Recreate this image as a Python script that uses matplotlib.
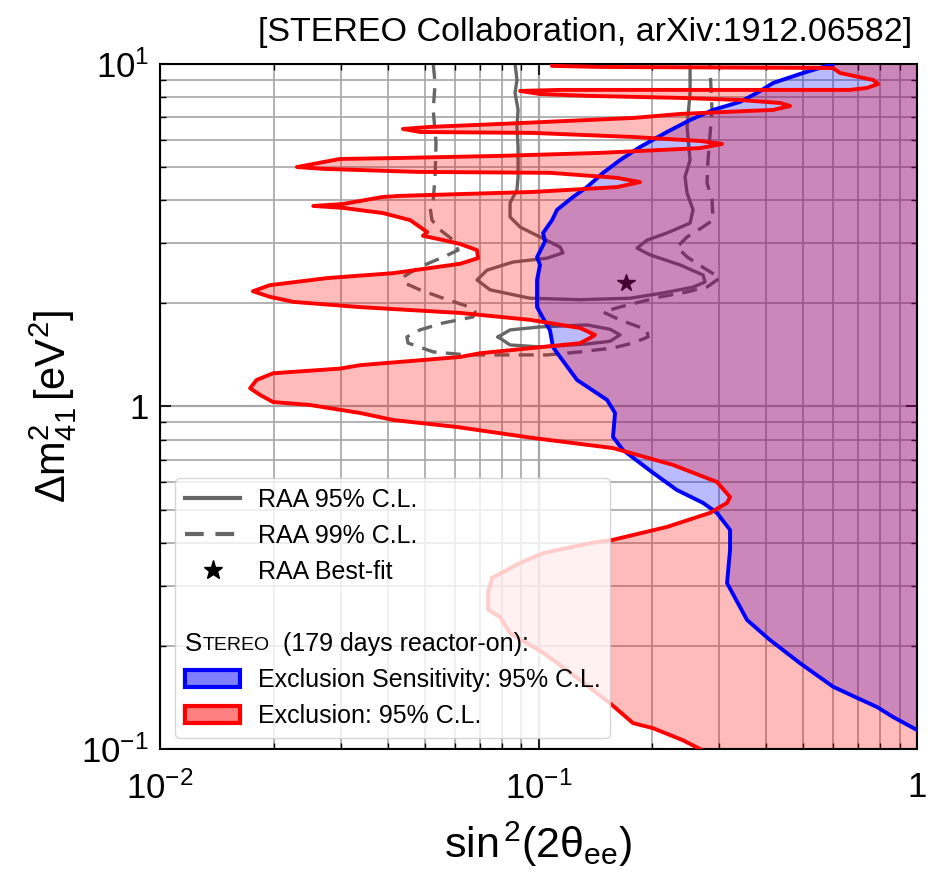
'''
STEREO exclusion contours vs. the RAA allowed region
'''

import numpy as np
import matplotlib
matplotlib.use('Agg')
import matplotlib.pyplot as plt
from matplotlib.lines import Line2D
from matplotlib.patches import Patch
from matplotlib.transforms import IdentityTransform

plt.rcParams['font.family'] = ['Liberation Sans', 'DejaVu Sans']
plt.rcParams['mathtext.fontset'] = 'custom'
plt.rcParams['mathtext.rm'] = 'Liberation Sans'
plt.rcParams['mathtext.it'] = 'Liberation Sans:italic'
plt.rcParams['mathtext.bf'] = 'Liberation Sans:bold'

XLIM = (1e-2, 1.0)
YLIM = (1e-1, 10.0)

# STEREO exclusion 95% C.L. (excluded to the right of the contour)
red_x = [0.1086, 0.1086, 0.1454, 0.600, 0.626, 0.765, 0.789, 0.738, 0.665, 0.267,
         0.114, 0.0894, 0.1009, 0.1343, 0.2365, 0.3407, 0.4346, 0.4619, 0.4166, 0.3556,
         0.2365, 0.1777, 0.0791, 0.0517, 0.04385, 0.0486, 0.0967, 0.1777, 0.2671, 0.3053,
         0.2671, 0.1454, 0.0791, 0.0431, 0.0299, 0.0270, 0.0230, 0.0270, 0.0478, 0.1072,
         0.1612, 0.1854, 0.1612, 0.0967, 0.0431, 0.0388, 0.0304, 0.0254, 0.0304, 0.0388,
         0.0458, 0.0508, 0.0495, 0.0560, 0.0621, 0.0688, 0.0692, 0.0621, 0.0413, 0.0276,
         0.0195, 0.0176, 0.0195, 0.0225, 0.0338, 0.0621, 0.0950, 0.1287, 0.1410, 0.1368,
         0.1287, 0.0700, 0.0621, 0.0338, 0.0299, 0.0199, 0.0180, 0.0173, 0.0184, 0.0199,
         0.0249, 0.0338, 0.0413, 0.0609, 0.0967, 0.1573, 0.2267, 0.2961, 0.3206, 0.3148,
         0.2838, 0.2185, 0.1573, 0.1368, 0.1028, 0.0894, 0.0754, 0.0736, 0.0736, 0.0791,
         0.0841, 0.1028, 0.1189, 0.1545, 0.1777, 0.2007, 0.2409, 0.2671]
red_y = [10.0, 9.87, 9.80, 9.73, 9.41, 8.98, 8.74, 8.51, 8.40, 8.40,
         8.40, 8.34, 8.17, 8.07, 7.96, 7.85, 7.69, 7.54, 7.34, 7.29,
         7.145, 6.955, 6.68, 6.55, 6.46, 6.33, 6.29, 6.12, 5.96, 5.84,
         5.68, 5.50, 5.39, 5.315, 5.28, 5.17, 5.00, 4.94, 4.84, 4.81,
         4.65, 4.52, 4.37, 4.23, 4.12, 4.09, 3.90, 3.85, 3.80, 3.67,
         3.50, 3.23, 3.15, 3.06, 2.98, 2.86, 2.71, 2.61, 2.45, 2.37,
         2.26, 2.17, 2.09, 2.02, 1.95, 1.875, 1.79, 1.695, 1.618, 1.585,
         1.53, 1.43, 1.395, 1.32, 1.29, 1.25, 1.195, 1.13, 1.08, 1.03,
         1.01, 0.957, 0.913, 0.871, 0.809, 0.756, 0.675, 0.602, 0.544, 0.523,
         0.489, 0.445, 0.408, 0.399, 0.373, 0.349, 0.316, 0.287, 0.255, 0.243,
         0.218, 0.191, 0.170, 0.136, 0.119, 0.115, 0.106, 0.100]

# STEREO exclusion sensitivity 95% C.L.
blue_x = [0.600, 0.5646, 0.4998, 0.4166, 0.3778, 0.3407, 0.3072, 0.2891, 0.2514, 0.2185,
          0.1854, 0.1642, 0.1481, 0.1343, 0.1234, 0.1119, 0.1086, 0.1028, 0.1040, 0.0991,
          0.1009, 0.0991, 0.0991, 0.1028, 0.1072, 0.1092, 0.1140, 0.1264, 0.1517, 0.1593,
          0.1573, 0.1672, 0.2007, 0.2322, 0.2720, 0.2961, 0.3206, 0.3206, 0.3148, 0.3556,
          0.4090, 0.4908, 0.600, 0.6943, 0.7839, 0.8641, 1.0]
blue_y = [10.0, 9.80, 9.41, 8.80, 8.23, 7.75, 7.49, 7.34, 6.86, 6.33,
          5.72, 5.24, 4.81, 4.37, 4.09, 3.75, 3.50, 3.21, 3.03, 2.73,
          2.59, 2.34, 1.95, 1.81, 1.67, 1.49, 1.395, 1.195, 1.045, 0.957,
          0.815, 0.746, 0.640, 0.570, 0.523, 0.489, 0.436, 0.381, 0.305, 0.238,
          0.208, 0.178, 0.152, 0.141, 0.1326, 0.124, 0.1136]

# RAA allowed regions
raa95_x = [0.0867, 0.0877, 0.0867, 0.0883, 0.0877, 0.0883, 0.0883, 0.0883, 0.0877, 0.0841,
           0.0841, 0.0894, 0.1009, 0.1140, 0.1161, 0.1053, 0.0856, 0.0731, 0.0688, 0.0745,
           0.0950, 0.1287, 0.1745, 0.2133, 0.2560, 0.2754, 0.2720, 0.2365, 0.1971, 0.1821,
           0.1935, 0.2185, 0.2514, 0.2560, 0.2468, 0.2438, 0.2514, 0.2468, 0.2514, 0.2514]
raa95_y = [10.0, 8.98, 8.23, 7.34, 6.55, 5.72, 5.24, 4.68, 4.29, 3.93,
           3.575, 3.34, 3.125, 2.92, 2.81, 2.71, 2.64, 2.50, 2.34, 2.19,
           2.07, 2.05, 2.07, 2.145, 2.23, 2.31, 2.42, 2.59, 2.77, 2.90,
           3.06, 3.21, 3.43, 3.75, 4.20, 4.68, 5.24, 6.55, 8.23, 10.0]

raa95_island_x = [0.0782, 0.0841, 0.1009, 0.1343, 0.1545, 0.1642, 0.1545, 0.1343, 0.1009,
                  0.0841, 0.0782]
raa95_island_y = [1.596, 1.673, 1.707, 1.730, 1.68, 1.618, 1.55, 1.522, 1.492, 1.512, 1.596]

raa99_x = [0.0527, 0.0533, 0.0527, 0.0536, 0.0533, 0.0527, 0.0517, 0.0523, 0.0549, 0.0595,
           0.0613, 0.0560, 0.0486, 0.0439, 0.0444, 0.0486, 0.0560, 0.0659, 0.0680, 0.0671,
           0.0560, 0.0486, 0.0449, 0.0452, 0.0527, 0.0648, 0.0877, 0.1053, 0.1287, 0.1573,
           0.1777, 0.1947, 0.1935, 0.1642, 0.1481, 0.1642, 0.2094, 0.2468, 0.2787, 0.3016,
           0.2787, 0.2468, 0.2322, 0.2468, 0.2720, 0.2891, 0.2873, 0.2787, 0.2804, 0.2873,
           0.2838, 0.2838]
raa99_y = [10.0, 8.80, 7.34, 5.88, 4.68, 4.01, 3.82, 3.50, 3.28, 3.06,
           2.86, 2.73, 2.555, 2.39, 2.29, 2.19, 2.07, 1.95, 1.887, 1.825,
           1.753, 1.673, 1.596, 1.532, 1.443, 1.414, 1.414, 1.414, 1.443, 1.482,
           1.532, 1.596, 1.673, 1.789, 1.887, 1.952, 2.088, 2.16, 2.233, 2.373,
           2.504, 2.733, 2.92, 3.125, 3.343, 3.504, 4.008, 4.493, 5.244, 7.339,
           9.80, 10.0]

bestfit_x = [0.1703]
bestfit_y = [2.294]

RAA_COLOR = '0.4'
DASH = (0, (4.5, 2.8))


def draw_header(fig, leg, row_text):
    # "STEREO" in small caps, placed where the legend handles start
    r = fig.canvas.get_renderer()
    frame = leg.get_frame().get_window_extent(r)
    bb = row_text.get_window_extent(r)
    y = 0.5 * (bb.y0 + bb.y1)
    x = frame.x0 + 10
    kw = dict(transform=IdentityTransform(), va='center', ha='left', zorder=10)
    t = fig.text(x, y, 'S', fontsize=18.5, **kw)
    x = t.get_window_extent(r).x1
    t = fig.text(x, y - 1.5, 'TEREO', fontsize=14, **kw)
    x = t.get_window_extent(r).x1
    fig.text(x, y, '  (179 days reactor-on):', fontsize=18, **kw)


def create_plot():
    fig = plt.figure(figsize=(9.33, 8.76), dpi=100)
    ax = fig.add_axes([0.1715, 0.145, 0.8114, 0.782])
    ax.set_xscale('log')
    ax.set_yscale('log')
    ax.set_xlim(*XLIM)
    ax.set_ylim(*YLIM)

    ax.set_axisbelow(True)
    ax.grid(True, which='major', color='#a6a6a6', lw=1.6)
    ax.grid(True, which='minor', color='#a6a6a6', lw=1.2)

    # RAA contours sit under the exclusion fills
    ax.plot(raa95_x, raa95_y, color=RAA_COLOR, lw=2.4, zorder=1)
    ax.plot(raa95_island_x, raa95_island_y, color=RAA_COLOR, lw=2.4, zorder=1)
    ax.plot(raa99_x, raa99_y, color=RAA_COLOR, lw=2.4, ls=DASH, zorder=1)
    ax.plot(bestfit_x, bestfit_y, ls='none', marker='*', ms=13, color='k', zorder=1.5)

    ax.fill(np.r_[blue_x, XLIM[1]], np.r_[blue_y, YLIM[1]],
            color='blue', alpha=0.27, lw=0, zorder=2)
    ax.fill(np.r_[red_x, XLIM[1], XLIM[1]], np.r_[red_y, YLIM[0], YLIM[1]],
            color='red', alpha=0.27, lw=0, zorder=2.1)
    ax.plot(blue_x, blue_y, color='blue', lw=2.8, zorder=3)
    ax.plot(red_x, red_y, color='red', lw=2.8, zorder=3.1)

    ax.set_xticks([0.01, 0.1, 1], labels=[r'$10^{-2}$', r'$10^{-1}$', '1'])
    ax.set_yticks([0.1, 1, 10], labels=[r'$10^{-1}$', '1', r'$10^{1}$'])
    ax.xaxis.set_minor_formatter(plt.NullFormatter())
    ax.yaxis.set_minor_formatter(plt.NullFormatter())
    ax.tick_params(which='both', direction='in', top=True, right=True)
    ax.tick_params(which='major', length=8, width=1.2)
    ax.tick_params(which='minor', length=4, width=1.0)
    ax.tick_params(axis='x', labelsize=25, pad=16)
    ax.tick_params(axis='y', labelsize=25, pad=8)
    for s in ax.spines.values():
        s.set_linewidth(1.5)

    ax.set_xlabel(r'$\mathrm{sin}^{\,2}(2\mathrm{θ}_{\mathrm{ee}})$', fontsize=31, labelpad=10)
    ax.set_ylabel(r'$\Delta\mathrm{m}^{2}_{41}\,[\mathrm{eV}^{2}]$', fontsize=30, labelpad=2)

    fig.text(0.978, 0.963, '[STEREO Collaboration, arXiv:1912.06582]',
             ha='right', va='center', fontsize=24.5)

    handles = [
        Line2D([], [], color=RAA_COLOR, lw=3),
        Line2D([], [], color=RAA_COLOR, lw=3, ls=DASH),
        Line2D([], [], color='k', ls='none', marker='*', ms=14),
        Line2D([], [], ls='none'),
        Line2D([], [], ls='none'),
        Patch(facecolor=(0.5, 0.5, 1.0), edgecolor='blue', lw=3),
        Patch(facecolor=(1.0, 0.5, 0.5), edgecolor='red', lw=3),
    ]
    labels = ['RAA 95% C.L.', 'RAA 99% C.L.', 'RAA Best-fit', ' ', ' ',
              'Exclusion Sensitivity: 95% C.L.', 'Exclusion: 95% C.L.']
    leg = ax.legend(handles, labels, loc='lower left', bbox_to_anchor=(0.02, 0.016),
                    borderaxespad=0, fontsize=18, handlelength=2.2, handletextpad=0.7,
                    labelspacing=0.48, borderpad=0.4, framealpha=0.8)
    leg.set_zorder(5)

    fig.canvas.draw()
    draw_header(fig, leg, leg.get_texts()[4])

    fig.savefig('out.png', dpi=100)


if __name__ == '__main__':
    create_plot()
